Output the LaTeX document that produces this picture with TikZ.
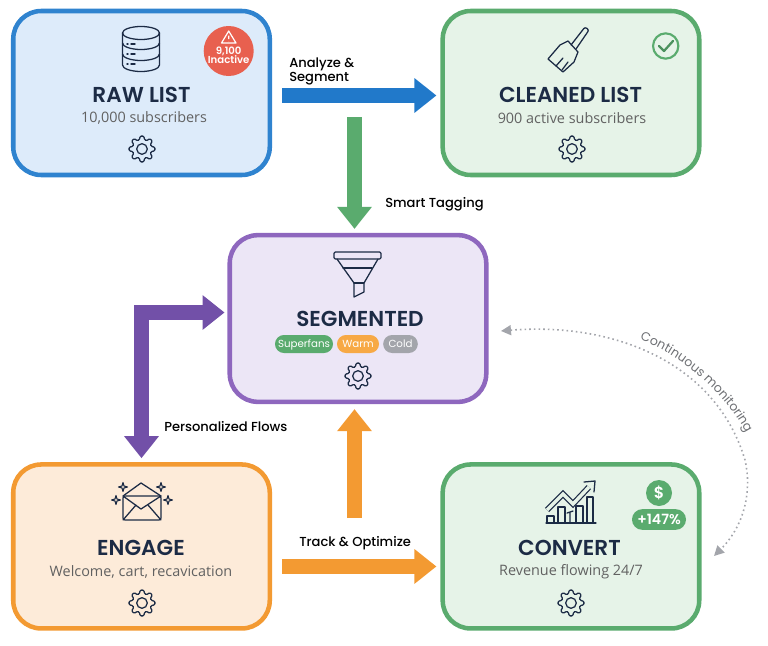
\documentclass[tikz,border=0pt]{standalone}
\usepackage{fontspec}
\setmainfont{Poppins}
\newfontfamily\semifont{Poppins SemiBold}
\newfontfamily\medfont{Poppins Medium}
\newfontfamily\subfont{Open Sans}
\usetikzlibrary{arrows.meta, calc, decorations.text}
\definecolor{navy}{HTML}{1C2B45}
\definecolor{bluel}{HTML}{2F83CF}
\definecolor{bluea}{HTML}{2179CA}
\definecolor{bluef}{HTML}{DDEBFA}
\definecolor{greenl}{HTML}{5AAB6E}
\definecolor{greenf}{HTML}{E6F3E8}
\definecolor{purplel}{HTML}{8E67BE}
\definecolor{purplef}{HTML}{ECE6F6}
\definecolor{purplea}{HTML}{7250A8}
\definecolor{orangel}{HTML}{F39A32}
\definecolor{orangef}{HTML}{FDEBD9}
\definecolor{warmf}{HTML}{F7A945}
\definecolor{redb}{HTML}{E8604F}
\definecolor{greyl}{HTML}{A3A5AB}
\definecolor{greyt}{HTML}{6E7074}
\tikzstyle{block} = [rectangle, draw, line width=3.4pt, rounded corners=21pt,
    minimum width=192.4pt, minimum height=123pt]
\tikzstyle{boxtitle} = [font=\semifont\fontsize{16.2}{17}\selectfont, text=navy, inner sep=0pt]
\tikzstyle{boxsub} = [font=\subfont\fontsize{10.8}{12}\selectfont, text=black!62, inner sep=0pt]
\tikzstyle{flow} = [font=\medfont\fontsize{9.8}{9}\selectfont, text=black, inner sep=0pt, align=left]
\tikzstyle{pill} = [rectangle, rounded corners=6.7pt, minimum height=13.5pt, inner sep=0pt,
    text height=6pt, text depth=.4pt, font=\fontsize{7.7}{9}\selectfont, text=white]
\tikzstyle{line} = [draw, line width=11.25pt, -{Triangle[length=16.5pt,width=25pt]}]
\tikzstyle{icon} = [draw=navy, line width=.95pt, line join=round, line cap=round]
\tikzset{gear/.pic={
  \draw[icon, rounded corners=.8pt] (-16:9.5) foreach \a in {0,45,...,315}
    {-- (\a-8:13) -- (\a+8:13) -- (\a+16:9.5) -- (\a+29:9.5)} -- cycle;
  \draw[icon] (0,0) circle (5.3);
}}
\tikzset{spark/.pic={
  \draw[icon, line width=.8pt] (0,-4.5) -- (1,-1) -- (4.5,0) -- (1,1) -- (0,4.5) -- (-1,1) -- (-4.5,0) -- (-1,-1) -- cycle;
}}
\begin{document}
\begin{tikzpicture}[x=.75pt, y=-.75pt]
\useasboundingbox (0,0) rectangle (768,646);
\node[block, fill=bluef, draw=bluel] (raw) at (141.5,93) {};
\node[block, fill=greenf, draw=greenl, right of=raw, node distance=322.1pt] (cleaned) {};
\node[block, fill=purplef, draw=purplel, minimum height=125pt] (seg) at (358,318.5) {};
\node[block, fill=orangef, draw=orangel, below of=raw, node distance=340.1pt] (engage) {};
\node[block, fill=greenf, draw=greenl, below of=cleaned, node distance=340.1pt] (convert) {};
% titles
\node[boxtitle] (raw_title) at (141.5,95) {RAW LIST};
\node[boxsub] (raw_sub) at (144,118) {10,000 subscribers};
\node[boxtitle] (cleaned_title) at (570.5,95) {CLEANED LIST};
\node[boxsub] (cleaned_sub) at (572,118) {900 active subscribers};
\node[boxtitle] (seg_title) at (360,319) {SEGMENTED};
\node[boxtitle] (engage_title) at (141,548) {ENGAGE};
\node[boxsub] (engage_sub) at (141,572) {Welcome, cart, recavication};
\node[boxtitle] (convert_title) at (569.5,548) {CONVERT};
\node[boxsub] (convert_sub) at (571,572) {Revenue flowing 24/7};
% pills
\node[pill, fill=greenl, minimum width=43.5pt] (superfans) at (304,344) {Superfans};
\node[pill, fill=warmf, minimum width=31.5pt] (warm) at (358,344) {Warm};
\node[pill, fill=greyl, minimum width=26pt] (cold) at (400.5,344) {Cold};
% gears
\pic at (142,149) {gear};
\pic at (572,149) {gear};
\pic at (358,376) {gear};
\pic at (142,603) {gear};
\pic at (571,603) {gear};
% database
\draw[icon] (141,33) ellipse (18.5 and 6.5);
\draw[icon] (122.5,33) -- (122.5,65) arc (180:0:18.5 and 6.5) -- (159.5,33);
\draw[icon] (122.5,43) arc (180:0:18.5 and 6.5);
\draw[icon] (122.5,54) arc (180:0:18.5 and 6.5);
\foreach \y in {44,54,64} {\draw[icon, line width=1.1pt] (127,\y) -- (128,\y) (131,\y) -- (135,\y);}
% warning badge
\node[circle, fill=redb, minimum size=37.5pt, inner sep=0pt] (badge) at (228.7,51) {};
\draw[white, line width=.9pt, line join=round] (228.7,31) -- (236,43) -- (221.5,43) -- cycle (228.7,35.5) -- (228.7,39) (228.7,41) -- (228.7,41.2);
\node[font=\semifont\fontsize{7.6}{7}\selectfont, text=white, align=center, inner sep=0pt] (badge_text) at (228.7,55) {9,100\\Inactive};
% broom
\draw[icon, rounded corners=1.5pt] (571,45) -- (585,27) -- (589,30) -- (576,49);
\draw[icon] (560,45) -- (568,41) -- (578,52) -- (574,62) -- (563,72) -- (548,59) -- cycle;
\draw[icon] (556,66) -- (563,58) (562,70) -- (568,62);
% check
\node[circle, draw=greenl, line width=1.6pt, minimum size=19pt, inner sep=0pt] (check) at (665.7,46) {};
\draw[greenl!85!black, line width=1.7pt, line cap=round, line join=round] (659,46) -- (664,51) -- (673,41);
% funnel
\draw[icon, rounded corners=1pt] (334,252) rectangle (381,259);
\draw[icon] (337,259) -- (354,283) -- (354,297) -- (364,292) -- (364,283) -- (378,259);
\draw[icon] (343,268) -- (372,268) (354,283) -- (364,283);
% envelope
\draw[icon, rounded corners=1.5pt] (123,496) rectangle (161,520);
\draw[icon] (123,496) -- (141,483) -- (161,496) (123,496) -- (141,509) -- (161,496);
\draw[icon] (123,520) -- (136,505) (161,520) -- (148,505);
\pic at (116,500) {spark};
\pic at (123,487) {spark};
\pic at (161,487) {spark};
\pic at (168,500) {spark};
% chart
\draw[icon] (546,523) -- (596,523);
\draw[icon] (547,523) |- (554,516) -- (554,523);
\draw[icon] (558,523) |- (565,507) -- (565,523);
\draw[icon] (576,523) |- (583,506) -- (583,523);
\draw[icon] (587,523) |- (593,497) -- (593,523);
\draw[icon] (570,523) -- (570,512) (567,513) -- (573,511);
\draw[navy, line width=.9pt, double=greenf, double distance=2.6pt, line join=miter] (547,510) -- (563,494) -- (573,504) -- (589,487);
\draw[icon, fill=greenf] (584,482) -- (595,481) -- (594,492);
% money badge
\node[circle, fill=greenl, minimum size=19.5pt, inner sep=0pt, font=\semifont\fontsize{12}{12}\selectfont, text=white] (dollar) at (659,493) {\$};
\node[pill, fill=greenl, minimum width=40.5pt, minimum height=15.5pt, rounded corners=7.7pt, text height=8pt, text depth=0pt, font=\semifont\fontsize{10.6}{12}\selectfont] (gain) at (659,519.5) {+147\%};
% flows
\coordinate (tag_start) at (354.5,117);
\coordinate (track_start) at (354.5,518);
\path [line, bluea, shorten <=7.5pt, shorten >=3pt] ($(raw.east)+(0,2.5)$) -- ($(cleaned.west)+(0,2.5)$);
\path [line, greenl, shorten >=3pt] (tag_start) -- (tag_start |- seg.north);
\path [line, purplea, arrows={Triangle[length=16.5pt,width=25pt]-Triangle[length=16.5pt,width=25pt]}, line join=miter, shorten <=2.2pt, shorten >=3pt] ($(seg.west)+(0,-6)$) -| (engage.north);
\path [line, orangel, shorten >=3.75pt] (track_start) -- (track_start |- seg.south);
\path [line, orangel, shorten <=7.5pt, shorten >=3pt] ($(engage.east)+(0,20)$) -- ($(convert.west)+(0,20)$);
\node[flow, anchor=west] (analyze) at (289,71) {Analyze \&\\Segment};
\node[flow, anchor=west] (tagging) at (385,204) {Smart Tagging};
\node[flow, anchor=west] (personal) at (164,427) {Personalized Flows};
\node[flow, anchor=west] (track) at (299,543) {Track \& Optimize};
% monitoring
\coordinate (mon_a) at (501,331);
\coordinate (mon_b) at (714,556);
\coordinate (mon_c) at (745,460);
\draw[greyl, line width=1.2pt, dash pattern=on 1.2pt off 2.3pt, {Triangle[length=7.5pt,width=7.5pt]}-{Triangle[length=7.5pt,width=7.5pt]}] (mon_a) .. controls (610,322) and (715,360) .. (mon_c) .. controls (752,490) and (745,525) .. (mon_b);
\path[decorate, decoration={text along path, text align=center,
    text={|\fontsize{9.4}{10}\selectfont\color{greyt}|Continuous monitoring}}]
    (640,340) .. controls (672,350) and (722,388) .. (746,433);
\end{tikzpicture}
\end{document}
